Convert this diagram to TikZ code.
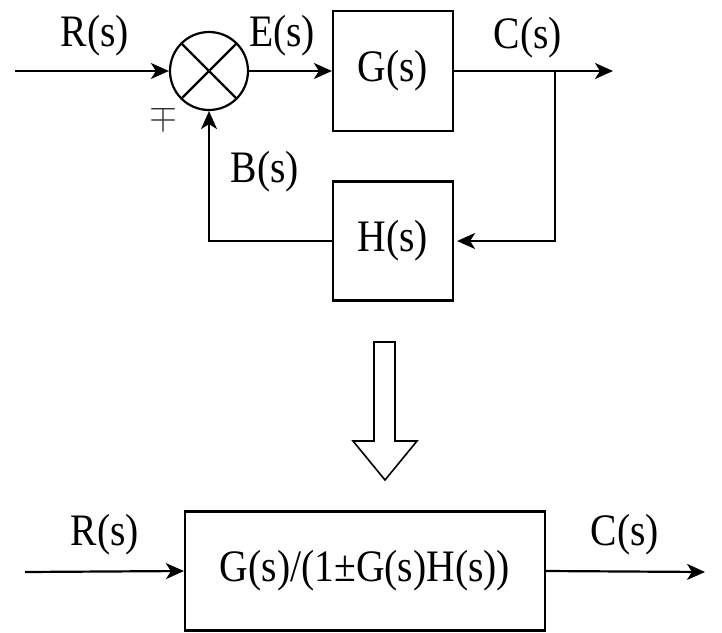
\documentclass[tikz,border=0pt]{standalone}
\usepackage{fontspec}
\usepackage{graphicx}
\setmainfont{Liberation Serif}
\usetikzlibrary{arrows.meta}
\newcommand\narrowtxt[1]{\scalebox{0.88}[1]{#1}}
\begin{document}
\begin{tikzpicture}[x=1pt,y=-1pt,
  line width=2.2pt,
  txt/.style={font=\fontsize{45}{48}\selectfont, inner sep=0pt},
  blk/.style={draw, rectangle, inner sep=0pt, font=\fontsize{45}{48}\selectfont},
  arr/.style={-{Stealth[length=18pt,width=16pt,inset=5pt]}},
]
\useasboundingbox (0,0) rectangle (722,632);
% top diagram
\node[draw, circle, minimum size=78pt, inner sep=0pt] (sum) at (209,71) {};
\draw (sum.45) -- (sum.225);
\draw (sum.135) -- (sum.315);
\node[blk, minimum width=120pt, minimum height=120pt] (G) at (393,71) {\narrowtxt{G(s)}};
\node[blk, minimum width=120pt, minimum height=119pt] (H) at (393,241) {\narrowtxt{H(s)}};
\coordinate (in) at (15,71);
\coordinate (out) at (613,71);
\coordinate (br) at (555,71);
\coordinate (fb) at (209,241);
\draw[arr] (in) -- (sum.west);
\draw[arr] (sum.east) -- (G.west);
\draw[arr] (G.east) -- (out);
\draw[arr, shorten >=3pt] (br) |- (H.east);
\draw[arr] (H.west) -- (fb) -- (sum.south);
\node[txt] (lR) at (95,36) {\narrowtxt{R(s)}};
\node[txt] (lE) at (282,36) {\narrowtxt{E(s)}};
\node[txt] (lC) at (528,38) {\narrowtxt{C(s)}};
\node[txt] (lB) at (265,172) {\narrowtxt{B(s)}};
\node[inner sep=0pt, text=black!80] (lpm) at (163,117) {\resizebox{28pt}{!}{$\mp$}};
% block arrow
\draw[line width=1.6pt, line join=miter] (374,342) -- (395,342) -- (395,441) -- (417,441) -- (385,480) -- (353,441) -- (374,441) -- cycle;
% bottom diagram
\node[blk, minimum width=360pt, minimum height=119pt] (T) at (365,571) {\narrowtxt{G(s)/(1±G(s)H(s))}};
\coordinate (in2) at (25,572);
\coordinate (out2) at (705,572);
\draw[arr] (in2) -- (T.west);
\draw[arr] (T.east) -- (out2);
\node[txt] (lR2) at (105,535) {\narrowtxt{R(s)}};
\node[txt] (lC2) at (625,535) {\narrowtxt{C(s)}};
\end{tikzpicture}
\end{document}
